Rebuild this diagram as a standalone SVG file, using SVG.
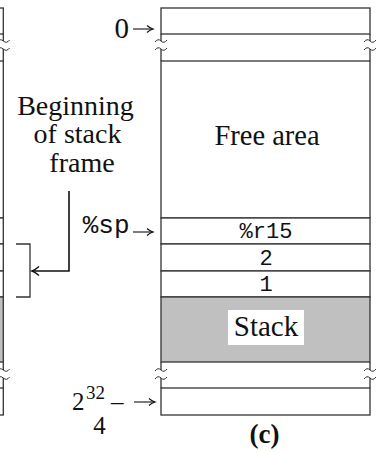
<svg xmlns="http://www.w3.org/2000/svg" width="383" height="452" viewBox="0 0 383 452">
<style>
.ln{fill:none;stroke:#333;stroke-width:1.3}
.cell{fill:#fff;stroke:#333;stroke-width:1.3}
.gray{fill:#c0c0c0;stroke:#333;stroke-width:1.3}
.sq{fill:none;stroke:#333;stroke-width:1}
.serif{font-family:"Liberation Serif","Times New Roman",serif;fill:#111}
.mono{font-family:"Liberation Mono","Courier New",monospace;fill:#111}
.arr{fill:none;stroke:#111;stroke-width:1.1}
</style>
<defs>
<marker id="ah" markerWidth="10" markerHeight="10" refX="7" refY="5" orient="auto" markerUnits="userSpaceOnUse">
<path d="M1,1.5 Q4,4.2 7,5 Q4,5.8 1,8.5" fill="none" stroke="#111" stroke-width="1.1"/>
</marker>
<marker id="ah2" markerWidth="12" markerHeight="12" refX="8" refY="6" orient="auto" markerUnits="userSpaceOnUse">
<path d="M1,1.5 Q5,5 8,6 Q5,7 1,10.5" fill="none" stroke="#111" stroke-width="1.5"/>
</marker>
</defs>

<g id="prev-column">
<rect class="cell" x="-50" y="8" width="53.3" height="26"/>
<rect class="cell" x="-50" y="61" width="53.3" height="157"/>
<rect class="cell" x="-50" y="218" width="53.3" height="26"/>
<rect class="cell" x="-50" y="244" width="53.3" height="27"/>
<rect class="cell" x="-50" y="271" width="53.3" height="26"/>
<rect class="gray" x="-50" y="297" width="53.3" height="65"/>
<rect class="cell" x="-50" y="388" width="53.3" height="27"/>
<path class="ln" d="M3.3,34 V41 M3.3,49 V61 M3.3,362 V370 M3.3,378 V388"/>
<path class="sq" d="M-3,42 q3,-4 6.3,-1 t6.3,-1 M-3,50 q3,-4 6.3,-1 t6.3,-1 M-3,371 q3,-4 6.3,-1 t6.3,-1 M-3,379 q3,-4 6.3,-1 t6.3,-1"/>
</g>

<g id="memory-column">
<rect class="cell" x="161" y="8" width="209" height="26"/>
<rect class="cell" x="161" y="61" width="209" height="157"/>
<rect class="cell" x="161" y="218" width="209" height="26"/>
<rect class="cell" x="161" y="244" width="209" height="27"/>
<rect class="cell" x="161" y="271" width="209" height="26"/>
<rect class="gray" x="161" y="297" width="209" height="65"/>
<rect class="cell" x="161" y="388" width="209" height="27"/>
<path class="ln" d="M161,34 V41 M161,49 V61 M370,34 V41 M370,49 V61 M161,362 V370 M161,378 V388 M370,362 V370 M370,378 V388"/>
<path class="sq" d="M155,42 q3,-4 6,-1 t6,-1 M155,50 q3,-4 6,-1 t6,-1 M364,42 q3,-4 6,-1 t6,-1 M364,50 q3,-4 6,-1 t6,-1 M155,371 q3,-4 6,-1 t6,-1 M155,379 q3,-4 6,-1 t6,-1 M364,371 q3,-4 6,-1 t6,-1 M364,379 q3,-4 6,-1 t6,-1"/>
</g>

<g id="free-area">
<text class="serif" x="267" y="145" font-size="28.5" text-anchor="middle">Free area</text>
</g>
<g id="cell-r15">
<text class="mono" x="266" y="238" font-size="22" text-anchor="middle">%r15</text>
</g>
<g id="cell-2">
<text class="mono" x="266" y="265" font-size="22" text-anchor="middle">2</text>
</g>
<g id="cell-1">
<text class="mono" x="266" y="291" font-size="22" text-anchor="middle">1</text>
</g>
<g id="stack">
<rect x="228" y="310" width="76" height="35" fill="#fff"/>
<text class="serif" x="266" y="336" font-size="29" text-anchor="middle">Stack</text>
</g>

<g id="label-0">
<text class="serif" x="129" y="38" font-size="29" text-anchor="end">0</text>
</g>
<g id="label-sp">
<text class="mono" x="129.5" y="233" font-size="26" text-anchor="end">%sp</text>
</g>
<g id="label-top">
<text class="serif" x="72" y="409.5" font-size="25">2</text>
<text class="serif" x="86" y="399" font-size="19">32</text>
<text class="serif" x="111" y="409.5" font-size="25">–</text>
<text class="serif" x="99.5" y="433.5" font-size="25" text-anchor="middle">4</text>
</g>
<g id="beginning-label">
<text class="serif" font-size="28" text-anchor="middle">
<tspan x="79" y="115">Beginning</tspan>
<tspan x="81" y="143.3">of stack</tspan>
<tspan x="82" y="171.7">frame</tspan>
</text>
</g>
<g id="caption">
<text class="serif" x="264.5" y="443" font-size="27" font-weight="bold" text-anchor="middle">(c)</text>
</g>
<g id="bracket">
<path class="ln" d="M16,244 H30 V297 H16"/>
</g>

<g id="connectors">
<path class="arr" d="M133,29 H153" marker-end="url(#ah)"/>
<path class="arr" d="M133,232 H153" marker-end="url(#ah)"/>
<path class="arr" d="M134,402 H155" marker-end="url(#ah)"/>
<path d="M69,191 V271 H32" fill="none" stroke="#111" stroke-width="1.6" marker-end="url(#ah2)"/>
</g>
</svg>
